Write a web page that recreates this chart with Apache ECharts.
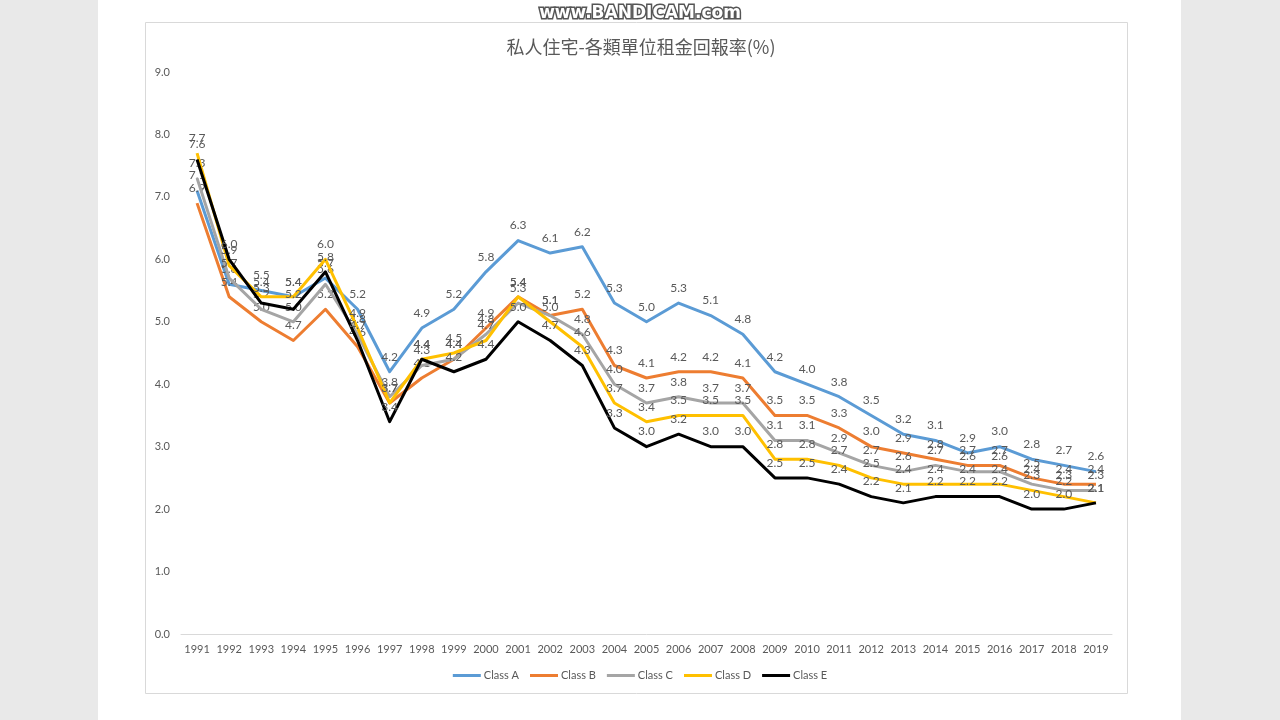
<!DOCTYPE html>
<html>
<head>
<meta charset="utf-8">
<script src="https://cdn.jsdelivr.net/npm/echarts@6/dist/echarts.min.js"></script>
<style>
html,body{margin:0;padding:0;background:#fff;}
#main{width:1280px;height:720px;}
</style>
</head>
<body>
<div id="main"></div>
<script>
const years = ['1991','1992','1993','1994','1995','1996','1997','1998','1999','2000','2001','2002','2003','2004','2005','2006','2007','2008','2009','2010','2011','2012','2013','2014','2015','2016','2017','2018','2019'];
const classA = [7.1,5.6,5.5,5.4,5.7,5.2,4.2,4.9,5.2,5.8,6.3,6.1,6.2,5.3,5.0,5.3,5.1,4.8,4.2,4.0,3.8,3.5,3.2,3.1,2.9,3.0,2.8,2.7,2.6];
const classB = [6.9,5.4,5.0,4.7,5.2,4.6,3.7,4.1,4.4,4.9,5.4,5.1,5.2,4.3,4.1,4.2,4.2,4.1,3.5,3.5,3.3,3.0,2.9,2.8,2.7,2.7,2.5,2.4,2.4];
const classC = [7.3,5.7,5.2,5.0,5.6,4.8,3.8,4.3,4.4,4.8,5.3,5.1,4.8,4.0,3.7,3.8,3.7,3.7,3.1,3.1,2.9,2.7,2.6,2.7,2.6,2.6,2.4,2.3,2.3];
const classD = [7.7,5.9,5.4,5.4,6.0,4.9,3.7,4.4,4.5,4.7,5.4,5.0,4.6,3.7,3.4,3.5,3.5,3.5,2.8,2.8,2.7,2.5,2.4,2.4,2.4,2.4,2.3,2.2,2.1];
const classE = [7.6,6.0,5.3,5.2,5.8,4.7,3.4,4.4,4.2,4.4,5.0,4.7,4.3,3.3,3.0,3.2,3.0,3.0,2.5,2.5,2.4,2.2,2.1,2.2,2.2,2.2,2.0,2.0,2.1];
const seriesNames = ['Class A','Class B','Class C','Class D','Class E'];
const seriesData = [classA, classB, classC, classD, classE];
const colors = ['#5B9BD5','#ED7D31','#A5A5A5','#FFC000','#000000'];
const titleText = '私人住宅-各類單位租金回報率(%)';

const chart = echarts.init(document.getElementById('main'), null, {renderer:'canvas'});
const option = {
  backgroundColor: '#ffffff',
  animation: false,
  color: colors,
  graphic: [
    {type:'rect', left:0, top:0, shape:{width:98, height:720}, style:{fill:'#e9e9e9'}, z:-10},
    {type:'rect', left:1181, top:0, shape:{width:99, height:720}, style:{fill:'#e9e9e9'}, z:-10},
    {type:'rect', left:145, top:22, shape:{width:982, height:671}, style:{fill:'#ffffff', stroke:'#d9d9d9', lineWidth:1}, z:-9},
    {type:'text', left:'center', top:4, style:{text:'www.BANDICAM.com', font:'bold 17px "DejaVu Sans"', fill:'#ffffff', stroke:'#555555', lineWidth:3}, z:10}
  ],
  title: {
    text: titleText,
    left: 636, textAlign: 'center', top: 33,
    textStyle: {fontFamily:'"Noto Sans CJK TC"', fontSize:18, fontWeight:'normal', color:'#595959'}
  },
  legend: {
    data: seriesNames,
    bottom: 34,
    left: 'center',
    icon: 'rect',
    itemWidth: 28, itemHeight: 3,
    itemGap: 11,
    textStyle: {fontFamily:'Lato', fontSize:11, color:'#595959', padding:[0,0,0,-2]}
  },
  grid: {left:181, right:168, top:72, bottom:86, containLabel:false},
  xAxis: {
    type:'category', data: years, boundaryGap:true,
    axisLine:{lineStyle:{color:'#d9d9d9'}},
    axisTick:{show:false},
    axisLabel:{fontFamily:'Lato', fontSize:11, color:'#595959', margin:10, interval:0}
  },
  yAxis: {
    type:'value', min:0, max:9, interval:1,
    axisLine:{show:false}, axisTick:{show:false},
    splitLine:{show:false},
    axisLabel:{fontFamily:'Lato', fontSize:11, color:'#595959', margin:11, formatter: v => v.toFixed(1)}
  },
  series: seriesNames.map((n,i) => ({
    name: n, type:'line', data: seriesData[i],
    symbol:'circle', symbolSize:0.1, showSymbol:true, showAllSymbol:true, smooth:false,
    lineStyle:{width:3, color:colors[i], join:'round'},
    itemStyle:{color:colors[i]},
    label:{show:true, position:'top', distance:9, fontFamily:'Lato', fontSize:12, color:'#595959', formatter: p => Number(p.value).toFixed(1)},
    labelLayout:{hideOverlap:false},
    z: 2 + i
  }))
};
chart.setOption(option);
</script>
</body>
</html>
